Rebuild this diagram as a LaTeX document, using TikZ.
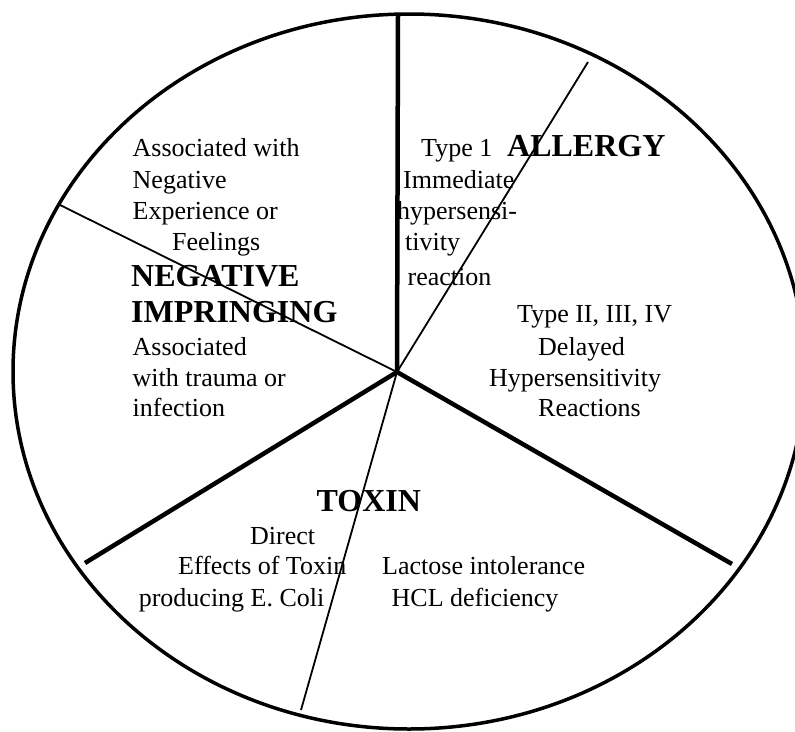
\documentclass[tikz,border=0pt]{standalone}
\usepackage{fontspec}
\setmainfont{Liberation Serif}
\begin{document}
\begin{tikzpicture}[x=1pt,y=-1pt,
  body/.style={anchor=base west, inner sep=0pt, font=\fontsize{26}{31}\selectfont},
  ttl/.style={anchor=base west, inner sep=0pt, font=\fontsize{32}{38}\selectfont\bfseries},
  rim/.style={line width=3.5pt},
  thickdiv/.style={line width=4.5pt},
  thindiv/.style={line width=1.8pt}]
\useasboundingbox (0,0) rectangle (795,731);
\fill[white] (0,0) rectangle (795,731);
\begin{scope}
\clip (0,0) rectangle (795,731);
\draw[rim] (409,371.5) ellipse [x radius=396pt, y radius=357.5pt];
\end{scope}
% texts: negative impringing
\node[body] (n1) at (132.5,156.5) {Associated with};
\node[body] (n2) at (132.5,188) {Negative};
\node[body] (n3) at (132.5,219.6) {Experience or};
\node[body] (n4) at (172,250) {Feelings};
\node[ttl] (n5) at (131,286) {NEGATIVE};
\node[ttl] (n6) at (131,322) {IMPRINGING};
\node[body] (n7) at (132.5,355) {Associated};
\node[body] (n8) at (132.5,386) {with trauma or};
\node[body] (n9) at (132.5,416) {infection};
% allergy
\node[body] (a1) at (421,156.5) {Type 1};
\node[ttl] (a2) at (507,156.5) {ALLERGY};
\node[body] (a3) at (403,188) {Immediate};
\node[body] (a4) at (397,219.6) {hypersensi-};
\node[body] (a5) at (405,250) {tivity};
\node[body] (a6) at (407.5,285) {reaction};
\node[body] (a7) at (517,322) {Type II, III, IV};
\node[body] (a8) at (538,355) {Delayed};
\node[body] (a9) at (489,386) {Hypersensitivity};
\node[body] (a10) at (538,416) {Reactions};
% toxin
\node[ttl] (t1) at (316.5,511.7) {TOXIN};
\node[body] (t2) at (250,544) {Direct};
\node[body] (t3) at (178,574.7) {Effects of Toxin};
\node[body] (t4) at (138.6,606) {producing E. Coli};
\node[body] (t5) at (382,574.7) {Lactose intolerance};
\node[body] (t6) at (391.5,606) {HCL deficiency};
% spokes
\coordinate (c) at (397,372);
\coordinate (eTop) at (398,15);
\coordinate (eUR) at (588,62);
\coordinate (eL) at (60,205);
\coordinate (eLL) at (85,563);
\coordinate (eLR) at (732,564);
\coordinate (eB) at (301,710);
\draw[thickdiv] (c) -- (eTop);
\draw[thickdiv] (c) -- (eLL);
\draw[thickdiv] (c) -- (eLR);
\draw[thindiv] (c) -- (eUR);
\draw[thindiv] (c) -- (eL);
\draw[thindiv] (c) -- (eB);
\end{tikzpicture}
\end{document}
